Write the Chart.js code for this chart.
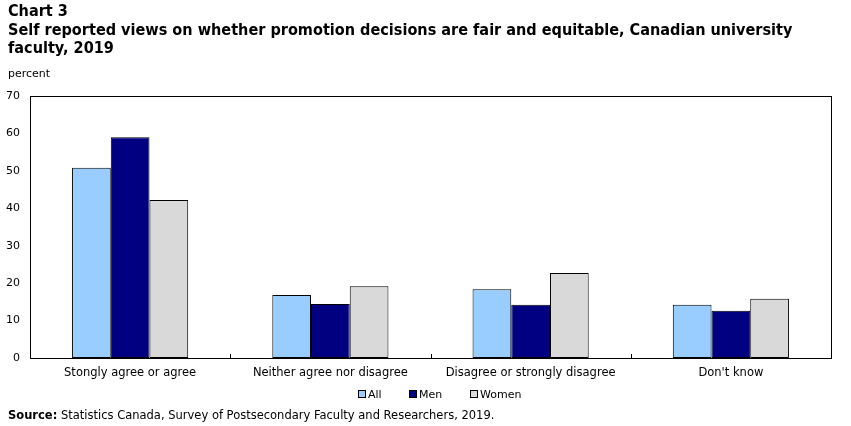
<!DOCTYPE html>
<html>
<head>
<meta charset="utf-8">
<script src="https://cdn.jsdelivr.net/npm/chart.js@4"></script>
<style>
  html, body { margin: 0; padding: 0; background: #fff; width: 851px; height: 426px; overflow: hidden; }
  #wrap { position: relative; width: 851px; height: 426px; }
  #chart { position: absolute; left: 0; top: 0; }
  .t { position: absolute; left: 8px; color: #000; white-space: nowrap; }
  #title { top: 2px; font-family: "DejaVu Sans Condensed", "DejaVu Sans", sans-serif; font-weight: bold; font-size: 16.1px; line-height: 18.7px; }
  #unit { top: 67px; font-family: "DejaVu Sans", sans-serif; font-size: 11px; }
  #source { top: 408px; font-family: "DejaVu Sans", sans-serif; font-size: 11.5px; }
  .lg { position: absolute; top: 387px; height: 14px; display: flex; align-items: center; font-family: "DejaVu Sans", sans-serif; font-size: 11px; color: #000; white-space: nowrap; }
  .lg i { display: inline-block; width: 6px; height: 6px; border: 1px solid #000; margin-right: 2px; }
</style>
</head>
<body>
<div id="wrap">
  <canvas id="chart" width="851" height="426"></canvas>
  <div class="t" id="title">Chart 3<br>Self reported views on whether promotion decisions are fair and equitable, Canadian university<br>faculty, 2019</div>
  <div class="t" id="unit">percent</div>
  <div id="legend"></div>
  <div class="t" id="source"><b>Source:</b> Statistics Canada, Survey of Postsecondary Faculty and Researchers, 2019.</div>
</div>
<script>
const categories = ["Stongly agree or agree", "Neither agree nor disagree", "Disagree or strongly disagree", "Don't know"];
const allValues = [50.8, 16.8, 18.4, 14.2];
const menValues = [59.0, 14.4, 14.2, 12.6];
const womenValues = [42.2, 19.2, 22.7, 15.8];
const seriesNames = ["All", "Men", "Women"];
const seriesColors = ["#99CCFF", "#000080", "#D9D9D9"];
const yTicks = [0, 10, 20, 30, 40, 50, 60, 70];

const FONT = "'DejaVu Sans', sans-serif";

// HTML legend
const legendLefts = [358, 409, 470];
const legendEl = document.getElementById('legend');
seriesNames.forEach((name, i) => {
  const d = document.createElement('div');
  d.className = 'lg';
  d.style.left = legendLefts[i] + 'px';
  const box = document.createElement('i');
  box.style.background = seriesColors[i];
  d.appendChild(box);
  d.appendChild(document.createTextNode(name));
  legendEl.appendChild(d);
});

const frame = {
  id: 'frame',
  afterDatasetsDraw(chart) {
    const { ctx, chartArea: a, scales: { x } } = chart;
    ctx.save();
    ctx.strokeStyle = '#000';
    ctx.lineWidth = 1;
    ctx.strokeRect(Math.round(a.left) + 0.5, Math.round(a.top) + 0.5, Math.round(a.right - a.left), Math.round(a.bottom - a.top));
    ctx.beginPath();
    for (let i = 0; i < categories.length - 1; i++) {
      const px = Math.round((x.getPixelForValue(i) + x.getPixelForValue(i + 1)) / 2) + 0.5;
      ctx.moveTo(px, Math.round(a.bottom));
      ctx.lineTo(px, Math.round(a.bottom) - 4);
    }
    ctx.stroke();
    ctx.restore();
  }
};

new Chart(document.getElementById('chart'), {
  type: 'bar',
  data: {
    labels: categories,
    datasets: [
      { label: seriesNames[0], data: allValues, backgroundColor: seriesColors[0] },
      { label: seriesNames[1], data: menValues, backgroundColor: seriesColors[1] },
      { label: seriesNames[2], data: womenValues, backgroundColor: seriesColors[2] }
    ].map(d => Object.assign(d, { borderColor: '#000', borderWidth: 1, borderSkipped: false, barPercentage: 1, categoryPercentage: 0.58 }))
  },
  options: {
    responsive: false,
    animation: false,
    devicePixelRatio: 1,
    layout: { padding: { top: 96, right: 20, left: 0, bottom: 43 } },
    plugins: {
      title: { display: false },
      tooltip: { enabled: false },
      legend: { display: false }
    },
    scales: {
      x: {
        grid: { display: false },
        border: { display: false },
        ticks: { font: { family: FONT, size: 11.5 }, color: '#000', padding: 0, maxRotation: 0 },
        afterFit(s) { s.height = 25; }
      },
      y: {
        min: 0, max: 70,
        afterBuildTicks(s) { s.ticks = yTicks.map(v => ({ value: v })); },
        grid: { display: false },
        border: { display: false },
        ticks: { font: { family: FONT, size: 11 }, color: '#000', padding: 2 },
        afterFit(s) { s.width = 30; }
      }
    }
  },
  plugins: [frame]
});
</script>
</body>
</html>
